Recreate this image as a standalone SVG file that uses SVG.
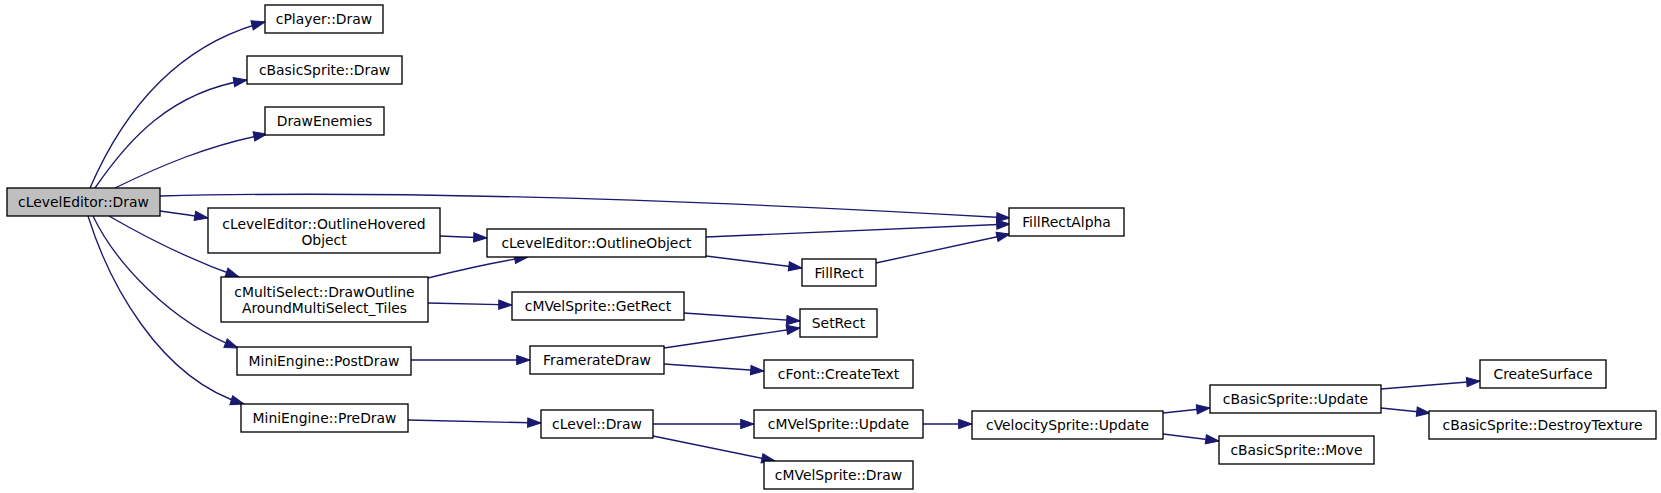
<svg xmlns="http://www.w3.org/2000/svg" width="1661" height="493" viewBox="0 0 1661 493">
<style>
.n rect{fill:#ffffff;stroke:#000000;stroke-width:1.33}
.n text{font-family:"DejaVu Sans",sans-serif;font-size:13.9px;fill:#000000;text-anchor:middle}
.root rect{fill:#bfbfbf}
.e path{fill:none;stroke:#191970;stroke-width:1.33;marker-end:url(#arr)}
</style>
<defs>
<marker id="arr" markerUnits="userSpaceOnUse" markerWidth="15" markerHeight="11" refX="13.3" refY="4.65" orient="auto" overflow="visible">
<path d="M0,0 L13.3,4.65 L0,9.3 Z" fill="#191970" stroke="#191970" stroke-width="1"/>
</marker>
</defs>
<rect width="1661" height="493" fill="#ffffff"/>
<g id="edges" class="e">
<path d="M90,188 C116,128 165,48 265,22"/>
<path d="M95,188 C128,140 170,92 247,80"/>
<path d="M115,188 C158,167 208,145 267,134"/>
<path d="M160,196 C400,190 700,200 1010,218"/>
<path d="M160,211 C175,213 190,215 208,218"/>
<path d="M109,216 C140,234 185,258 239,277"/>
<path d="M93,216 C115,262 170,322 238,348"/>
<path d="M88,216 C108,280 158,378 244,404"/>
<path d="M440,236 L487,238"/>
<path d="M428,278 C460,270 495,262 528,257"/>
<path d="M428,303 L512,305"/>
<path d="M411,360 L530,360"/>
<path d="M408,420 L541,423"/>
<path d="M706,237 L1010,224"/>
<path d="M706,256 L802,268"/>
<path d="M876,263 L1010,234"/>
<path d="M684,313 L800,321"/>
<path d="M664,348 L800,328"/>
<path d="M664,364 L764,371"/>
<path d="M653,424 L754,424"/>
<path d="M653,436 L775,461"/>
<path d="M922,424 L972,424"/>
<path d="M1163,413 L1210,408"/>
<path d="M1163,434 L1219,441"/>
<path d="M1381,389 L1480,381"/>
<path d="M1381,408 L1430,413"/>
</g>
<g id="cLevelEditor_Draw" class="n root"><rect x="7" y="188" width="153" height="28"/><text x="83.5" y="207">cLevelEditor::Draw</text></g>
<g id="cPlayer_Draw" class="n"><rect x="265" y="5" width="118" height="28"/><text x="324" y="24">cPlayer::Draw</text></g>
<g id="cBasicSprite_Draw" class="n"><rect x="247" y="56" width="155" height="28"/><text x="324.5" y="75">cBasicSprite::Draw</text></g>
<g id="DrawEnemies" class="n"><rect x="265" y="107" width="119" height="28"/><text x="324.5" y="126">DrawEnemies</text></g>
<g id="OutlineHoveredObject" class="n"><rect x="208" y="208" width="232" height="45"/><text x="324" y="228.5">cLevelEditor::OutlineHovered</text><text x="324" y="244.5">Object</text></g>
<g id="DrawOutlineAroundMultiSelect_Tiles" class="n"><rect x="221" y="277" width="207" height="45"/><text x="324.5" y="297">cMultiSelect::DrawOutline</text><text x="324.5" y="313">AroundMultiSelect_Tiles</text></g>
<g id="MiniEngine_PostDraw" class="n"><rect x="237" y="347" width="174" height="28"/><text x="324" y="366">MiniEngine::PostDraw</text></g>
<g id="MiniEngine_PreDraw" class="n"><rect x="241" y="404" width="167" height="28"/><text x="324.5" y="423">MiniEngine::PreDraw</text></g>
<g id="OutlineObject" class="n"><rect x="487" y="229" width="219" height="28"/><text x="596.5" y="248">cLevelEditor::OutlineObject</text></g>
<g id="cMVelSprite_GetRect" class="n"><rect x="512" y="292" width="172" height="28"/><text x="598" y="311">cMVelSprite::GetRect</text></g>
<g id="FramerateDraw" class="n"><rect x="530" y="346" width="134" height="28"/><text x="597" y="365">FramerateDraw</text></g>
<g id="cLevel_Draw" class="n"><rect x="541" y="410" width="112" height="28"/><text x="597" y="429">cLevel::Draw</text></g>
<g id="FillRect" class="n"><rect x="802" y="259" width="74" height="27"/><text x="839" y="277.5">FillRect</text></g>
<g id="SetRect" class="n"><rect x="800" y="309" width="77" height="28"/><text x="838.5" y="328">SetRect</text></g>
<g id="cFont_CreateText" class="n"><rect x="764" y="360" width="149" height="28"/><text x="838.5" y="379">cFont::CreateText</text></g>
<g id="cMVelSprite_Update" class="n"><rect x="754" y="410" width="169" height="28"/><text x="838.5" y="429">cMVelSprite::Update</text></g>
<g id="cMVelSprite_Draw" class="n"><rect x="764" y="461" width="149" height="28"/><text x="838.5" y="480">cMVelSprite::Draw</text></g>
<g id="FillRectAlpha" class="n"><rect x="1009" y="208" width="115" height="28"/><text x="1066.5" y="227">FillRectAlpha</text></g>
<g id="cVelocitySprite_Update" class="n"><rect x="972" y="411" width="191" height="28"/><text x="1067.5" y="430">cVelocitySprite::Update</text></g>
<g id="cBasicSprite_Update" class="n"><rect x="1210" y="385" width="171" height="28"/><text x="1295.5" y="404">cBasicSprite::Update</text></g>
<g id="cBasicSprite_Move" class="n"><rect x="1219" y="436" width="155" height="28"/><text x="1296.5" y="455">cBasicSprite::Move</text></g>
<g id="CreateSurface" class="n"><rect x="1480" y="360" width="126" height="28"/><text x="1543" y="379">CreateSurface</text></g>
<g id="cBasicSprite_DestroyTexture" class="n"><rect x="1429" y="411" width="227" height="28"/><text x="1542.5" y="430">cBasicSprite::DestroyTexture</text></g>
</svg>
